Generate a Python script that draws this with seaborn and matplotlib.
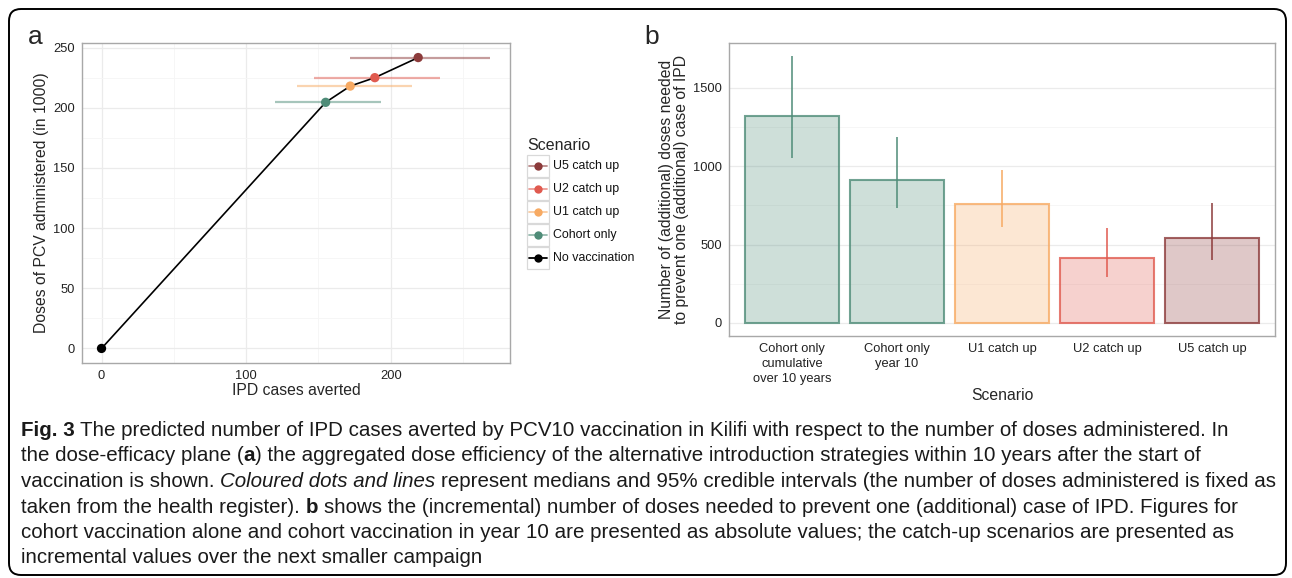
import matplotlib
matplotlib.use("Agg")
import matplotlib.pyplot as plt
from matplotlib import font_manager
from matplotlib.lines import Line2D
from matplotlib.patches import Rectangle, FancyBboxPatch
from matplotlib.transforms import IdentityTransform
import numpy as np
import pandas as pd
import seaborn as sns

# --- data ---
scenarios_a = ["No vaccination", "Cohort only", "U1 catch up", "U2 catch up", "U5 catch up"]
cases_averted = [0, 155, 172, 189, 219]
cases_lo = [0, 120, 135, 147, 172]
cases_hi = [0, 193, 215, 234, 269]
doses_thousand = [0, 204.5, 218, 225, 241.7]

bar_labels = ["Cohort only\ncumulative\nover 10 years", "Cohort only\nyear 10",
              "U1 catch up", "U2 catch up", "U5 catch up"]
bar_scenario = ["Cohort only", "Cohort only", "U1 catch up", "U2 catch up", "U5 catch up"]
doses_per_case = [1321, 910, 759, 414, 544]
doses_lo = [1054, 731, 614, 295, 402]
doses_hi = [1702, 1186, 975, 608, 767]

legend_order = ["U5 catch up", "U2 catch up", "U1 catch up", "Cohort only", "No vaccination"]
colors = {
    "No vaccination": "#000000",
    "Cohort only": "#4f8c78",
    "U1 catch up": "#f7aa63",
    "U2 catch up": "#e05a4f",
    "U5 catch up": "#8c3b3b",
}

caption_lines = [
    [("Fig. 3", "bold", "normal"), ("The predicted number of IPD cases averted by PCV10 vaccination in Kilifi with respect to the number of doses administered. In", "normal", "normal")],
    [("the dose-efficacy plane (", "normal", "normal", False), ("a", "bold", "normal", False), (") the aggregated dose efficiency of the alternative introduction strategies within 10 years after the start of", "normal", "normal")],
    [("vaccination is shown.", "normal", "normal"), ("Coloured dots and lines", "normal", "italic"), ("represent medians and 95% credible intervals (the number of doses administered is fixed as", "normal", "normal")],
    [("taken from the health register).", "normal", "normal"), ("b", "bold", "normal"), ("shows the (incremental) number of doses needed to prevent one (additional) case of IPD. Figures for", "normal", "normal")],
    [("cohort vaccination alone and cohort vaccination in year 10 are presented as absolute values; the catch-up scenarios are presented as", "normal", "normal")],
    [("incremental values over the next smaller campaign", "normal", "normal")],
]

W, H = 1292, 578

sns.set_style("whitegrid")
plt.rcParams['font.family'] = ['Liberation Sans', 'DejaVu Sans']

installed = {f.name for f in font_manager.fontManager.ttflist}
if "Liberation Sans Narrow" in installed:
    caption_family = ["Liberation Sans Narrow", "DejaVu Sans"]
elif "DejaVu Sans Condensed" in installed:
    caption_family = ["DejaVu Sans Condensed", "DejaVu Sans"]
else:
    caption_family = ["Liberation Sans", "DejaVu Sans"]


def fx(x):
    return x / W


def fy(y):
    return 1 - y / H


def style_axes(ax):
    ax.set_facecolor("white")
    for s in ax.spines.values():
        s.set_visible(True)
        s.set_color("#a8a8a8")
        s.set_linewidth(1.0)
    ax.grid(which="major", color="#ebebeb", lw=0.9)
    ax.grid(which="minor", color="#f5f5f5", lw=0.6)
    ax.tick_params(which="major", length=3, color="#333333", labelsize=9.3, labelcolor="#222222", pad=2)
    ax.tick_params(which="minor", length=0)
    ax.set_axisbelow(True)


fig = plt.figure(figsize=(W / 100, H / 100), dpi=100)

# ---- panel a ----
ax_a = fig.add_axes([fx(82), fy(363), fx(510 - 82), (363 - 43) / H])
style_axes(ax_a)
for sc, lo, hi, yv in zip(scenarios_a, cases_lo, cases_hi, doses_thousand):
    if sc == "No vaccination":
        continue
    ax_a.hlines(yv, lo, hi, colors=colors[sc], lw=1.6, alpha=0.5, zorder=1)
sns.lineplot(x=cases_averted, y=doses_thousand, sort=False, estimator=None,
             color="black", lw=1.2, ax=ax_a, zorder=2)
sns.scatterplot(x=cases_averted, y=doses_thousand, hue=scenarios_a, palette=colors,
                s=45, edgecolor="none", legend=False, ax=ax_a, zorder=3)
ax_a.set_xlim(-13.5, 282.5)
ax_a.set_ylim(-12.1, 253.8)
ax_a.set_xticks([0, 100, 200])
ax_a.set_xticks([50, 150, 250], minor=True)
ax_a.set_yticks([0, 50, 100, 150, 200, 250])
ax_a.set_yticks([25, 75, 125, 175, 225], minor=True)
ax_a.set_xlabel("IPD cases averted", fontsize=11.3, labelpad=1)
ax_a.set_ylabel("Doses of PCV administered (in 1000)", fontsize=11.3, labelpad=3)

# manual ggplot-like legend
fig.text(fx(527), fy(145), "Scenario", fontsize=11.5, va="center", ha="left")
row_y = [166, 189, 212, 235, 258]
for sc, ry in zip(legend_order, row_y):
    fig.add_artist(Rectangle((fx(527), fy(ry + 11)), fx(22), 22 / H, transform=fig.transFigure,
                             fill=False, ec="#d9d9d9", lw=0.9))
    fig.add_artist(Line2D([fx(529), fx(547)], [fy(ry), fy(ry)], transform=fig.transFigure,
                          color=colors[sc], lw=1.3, alpha=0.6 if sc != "No vaccination" else 1))
    fig.add_artist(Line2D([fx(538)], [fy(ry)], transform=fig.transFigure, marker="o",
                          ms=6, mec="none", color=colors[sc]))
    fig.text(fx(553), fy(ry), sc, fontsize=8.9, va="center", ha="left", color="#111111")

# ---- panel b ----
ax_b = fig.add_axes([fx(729), fy(336), fx(1275 - 729), (336 - 43) / H])
style_axes(ax_b)
df_b = pd.DataFrame({"label": bar_labels, "value": doses_per_case, "scenario": bar_scenario})
sns.barplot(data=df_b, x="label", y="value", hue="label",
            palette=[colors[s] for s in bar_scenario], width=0.9,
            legend=False, ax=ax_b, zorder=2)
for patch, sc in zip(ax_b.patches, bar_scenario):
    patch.set_facecolor(matplotlib.colors.to_rgba(colors[sc], 0.28))
    patch.set_edgecolor(matplotlib.colors.to_rgba(colors[sc], 0.8))
    patch.set_linewidth(1.5)
ax_b.vlines(range(len(bar_labels)), doses_lo, doses_hi,
            colors=[colors[s] for s in bar_scenario], lw=1.3, alpha=0.85, zorder=3)
ax_b.set_xlim(-0.6, 4.6)
ax_b.set_ylim(-83, 1787)
ax_b.set_xticks(range(len(bar_labels)), labels=bar_labels, linespacing=1.35)
ax_b.set_yticks([0, 500, 1000, 1500])
ax_b.set_yticks([250, 750, 1250], minor=True)
ax_b.set_xlabel("Scenario", fontsize=11.3, labelpad=2)
ax_b.set_ylabel("Number of (additional) doses needed\nto prevent one (additional) case of IPD",
                fontsize=11.3, labelpad=3, linespacing=1.0)

# panel letters
fig.text(fx(35), fy(37), "a", fontsize=19, va="center", ha="center")
fig.text(fx(652), fy(37), "b", fontsize=19, va="center", ha="center")

# frame
fig.add_artist(FancyBboxPatch((9, H - 575), 1286 - 9, 575 - 9,
                              boxstyle="round,pad=0,rounding_size=12",
                              transform=IdentityTransform(), fill=False,
                              ec="black", lw=1.4))

# ---- caption ----
renderer = fig.canvas.get_renderer()


def seg_width(txt, size, weight, style):
    t = fig.text(0, 0, txt, fontsize=size, fontweight=weight, fontstyle=style, family=caption_family)
    w = t.get_window_extent(renderer).width
    t.remove()
    return w


def line_width(segs, size):
    space = seg_width("a a", size, "normal", "normal") - seg_width("aa", size, "normal", "normal")
    total = 0
    for i, seg in enumerate(segs):
        total += seg_width(seg[0], size, seg[1], seg[2])
        if i < len(segs) - 1 and (len(seg) < 4 or seg[3]):
            total += space
    return total


base = 10.0
cap_size = base * (1278 - 21) / line_width(caption_lines[2], base)
space_w = seg_width("a a", cap_size, "normal", "normal") - seg_width("aa", cap_size, "normal", "normal")
baselines = [436, 461, 487, 513, 538, 563]
for segs, by in zip(caption_lines, baselines):
    x = 21
    for i, seg in enumerate(segs):
        t = fig.text(fx(x), fy(by), seg[0], fontsize=cap_size, fontweight=seg[1],
                     fontstyle=seg[2], family=caption_family, va="baseline", ha="left",
                     color="#1a1a1a")
        x += t.get_window_extent(renderer).width
        if i < len(segs) - 1 and (len(seg) < 4 or seg[3]):
            x += space_w

fig.savefig("out.png", dpi=100)
